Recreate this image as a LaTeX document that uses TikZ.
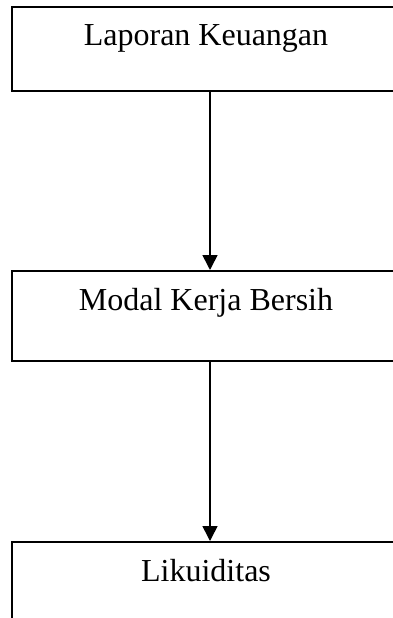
\documentclass[tikz,border=0pt]{standalone}
\usepackage{fontspec}
\setmainfont{Liberation Serif}
\usetikzlibrary{arrows.meta}
\begin{document}
\begin{tikzpicture}[x=1pt,y=-1pt,
  stagebox/.style={draw,line width=2pt,rectangle,inner sep=0pt},
  stagetext/.style={anchor=base,inner sep=0pt,font=\fontsize{32}{36}\selectfont},
  flow/.style={line width=1.6pt,-{Triangle[length=15pt,width=15pt]}}]
\useasboundingbox (0,0) rectangle (392,618);
% three stacked boxes, running off the right edge
\node[stagebox,minimum width=396pt,minimum height=84pt] (lk) at (210,49) {};
\node[stagebox,minimum width=396pt,minimum height=90pt] (mkb) at (210,316) {};
\node[stagebox,minimum width=396pt,minimum height=110pt] (lik) at (210,597) {};
% captions near the top of each box
\node[stagetext] (lkt) at (206,46) {Laporan Keuangan};
\node[stagetext] (mkbt) at (206,310) {Modal Kerja Bersih};
\node[stagetext] (likt) at (206,581) {Likuiditas};
% arrows between the boxes
\draw[flow] (lk.south) -- (mkb.north);
\draw[flow] (mkb.south) -- (lik.north);
\end{tikzpicture}
\end{document}
